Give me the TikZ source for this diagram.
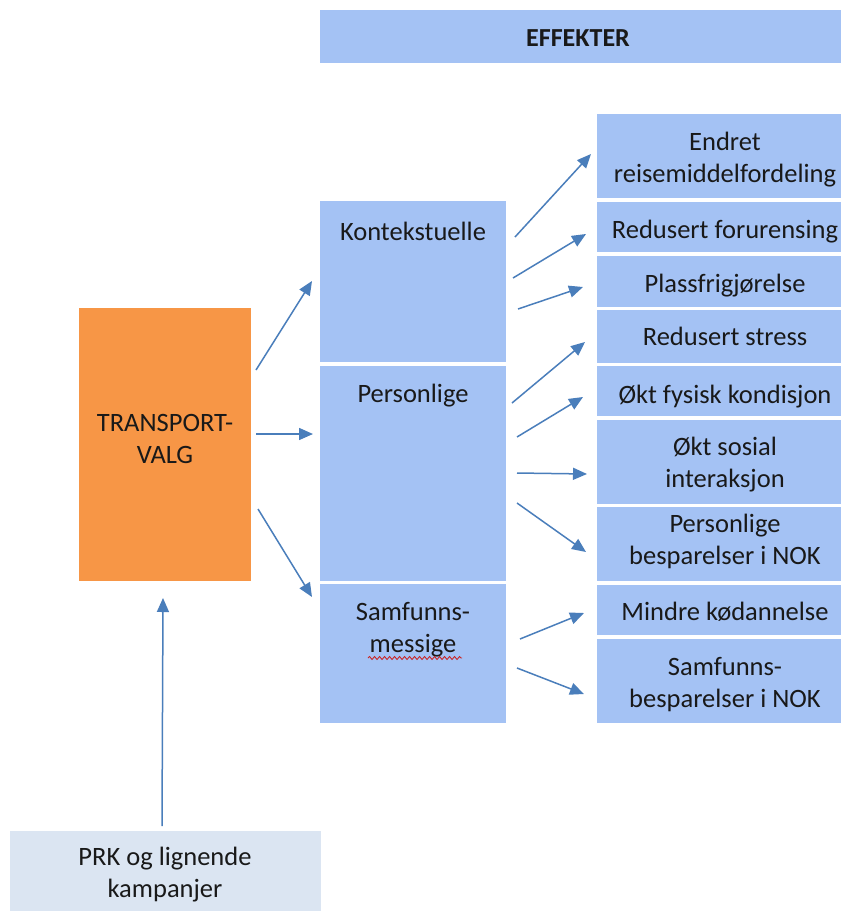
\documentclass[tikz,border=0pt]{standalone}
\usepackage{fontspec}
\setmainfont{Carlito}
\usetikzlibrary{arrows.meta,decorations.pathmorphing}
\definecolor{boxblue}{RGB}{164,194,244}
\definecolor{boxorange}{RGB}{247,150,70}
\definecolor{boxpale}{RGB}{219,229,242}
\definecolor{arrowblue}{RGB}{74,126,187}
\definecolor{spellred}{RGB}{200,40,40}
\begin{document}
\begin{tikzpicture}[x=1pt,y=-1pt,
  font=\fontsize{26.5}{32}\selectfont,
  bbox/.style={fill=boxblue,draw=none,anchor=north west,inner sep=0pt,outer sep=0pt},
  obox/.style={bbox,fill=boxorange},
  pbox/.style={bbox,fill=boxpale},
  txt/.style={anchor=base,align=center,inner sep=0pt,text=black!90},
  arr/.style={draw=arrowblue,line width=1.5pt,-{Triangle[length=14pt,width=12pt]}}]
\clip (0,0) rectangle (841,911);
\fill[white] (0,0) rectangle (841,911);
% header
\node[bbox,minimum width=540pt,minimum height=53pt] (head) at (320,10) {};
\node[txt,font=\fontsize{26}{32}\selectfont\bfseries] (headt) at (578,46) {EFFEKTER};
% right column
\node[bbox,minimum width=260pt,minimum height=84pt] (r1) at (597,114) {};
\node[bbox,minimum width=260pt,minimum height=50pt] (r2) at (597,202) {};
\node[bbox,minimum width=260pt,minimum height=51pt] (r3) at (597,256) {};
\node[bbox,minimum width=260pt,minimum height=53pt] (r4) at (597,310) {};
\node[bbox,minimum width=260pt,minimum height=50pt] (r5) at (597,366) {};
\node[bbox,minimum width=260pt,minimum height=84pt] (r6) at (597,420) {};
\node[bbox,minimum width=260pt,minimum height=74pt] (r7) at (597,507) {};
\node[bbox,minimum width=260pt,minimum height=50pt] (r8) at (597,585) {};
\node[bbox,minimum width=260pt,minimum height=84pt] (r9) at (597,639) {};
% multi-line text: base anchor is on the last line
\node[txt] (r1t) at (725,182) {Endret\\reisemiddelfordeling};
\node[txt] (r2t) at (725,238) {Redusert forurensing};
\node[txt] (r3t) at (725,292) {Plassfrigjørelse};
\node[txt] (r4t) at (725,345) {Redusert stress};
\node[txt] (r5t) at (725,403) {Økt fysisk kondisjon};
\node[txt] (r6t) at (725,487) {Økt sosial\\interaksjon};
\node[txt] (r7t) at (725,564) {Personlige\\besparelser i NOK};
\node[txt] (r8t) at (725,620) {Mindre kødannelse};
\node[txt] (r9t) at (725,707) {Samfunns-\\besparelser i NOK};
% middle column
\node[bbox,minimum width=186pt,minimum height=161pt] (m1) at (320,201) {};
\node[bbox,minimum width=186pt,minimum height=215pt] (m2) at (320,366) {};
\node[bbox,minimum width=186pt,minimum height=139pt] (m3) at (320,584) {};
\node[txt] (m1t) at (413,240) {Kontekstuelle};
\node[txt] (m2t) at (413,402) {Personlige};
\node[txt] (m3t) at (413,652) {Samfunns-\\messige};
\coordinate (sp1) at (368,658);
\coordinate (sp2) at (462,658);
\draw[spellred,line width=0.9pt,decorate,decoration={snake,amplitude=1.5pt,segment length=5pt}] (sp1) -- (sp2);
% transport
\node[obox,minimum width=172pt,minimum height=273pt] (tv) at (79,308) {};
\node[txt] (tvt) at (165,463) {TRANSPORT-\\VALG};
% PRK
\node[pbox,minimum width=311pt,minimum height=100pt] (prk) at (10,831) {};
\node[txt] (prkt) at (165,897) {PRK og lignende\\kampanjer};
% arrow coordinates
\coordinate (a1s) at (256,370); \coordinate (a1e) at (312,281);
\coordinate (a2s) at (256,434); \coordinate (a2e) at (313,434);
\coordinate (a3s) at (258,509); \coordinate (a3e) at (312,597);
\coordinate (a4s) at (162,826); \coordinate (a4e) at (163,598);
\coordinate (b1s) at (515,237); \coordinate (b1e) at (591,154);
\coordinate (b2s) at (513,278); \coordinate (b2e) at (586,234);
\coordinate (b3s) at (518,309); \coordinate (b3e) at (583,287);
\coordinate (b4s) at (512,403); \coordinate (b4e) at (585,342);
\coordinate (b5s) at (517,437); \coordinate (b5e) at (583,397);
\coordinate (b6s) at (517,473); \coordinate (b6e) at (587,474);
\coordinate (b7s) at (517,503); \coordinate (b7e) at (586,552);
\coordinate (b8s) at (520,639); \coordinate (b8e) at (584,613);
\coordinate (b9s) at (517,668); \coordinate (b9e) at (584,694);
\foreach \n in {a1,a2,a3,a4,b1,b2,b3,b4,b5,b6,b7,b8,b9}
  \draw[arr] (\n s) -- (\n e);
\end{tikzpicture}
\end{document}
